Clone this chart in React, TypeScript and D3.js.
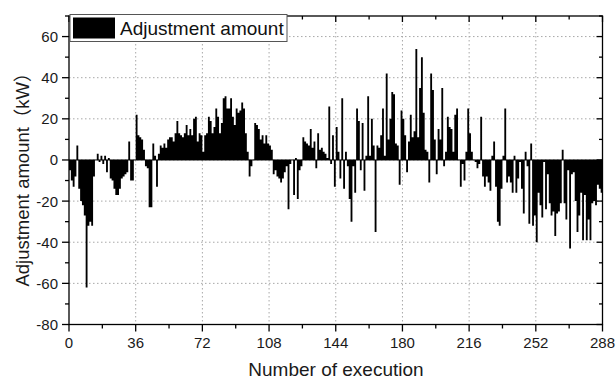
import React from "react";
import * as d3 from "d3";

// Adjustment amount (kW) for each execution, 1..288
const adjustment: number[] = [
  -5, -10, -13, -8, 7, -14, -20, -22, -27, -62, -32, -30,
  -32, -8, 0, 3, -1, 2, -2, 2, -6, 1, -9, -10,
  -14, -17, -17, -14, -9, -8, -7, -6, 9, -10, -10, 0,
  22, 12, 11, 10, 5, -3, -4, -23, -23, 8, 2, -13,
  3, 7, 6, 8, 6, 10, 11, 11, 9, 13, 19, 13,
  12, 11, 13, 17, 12, 15, 12, 20, 21, 9, 13, 12,
  4, 12, 13, 21, 19, 13, 16, 25, 21, 13, 18, 30,
  31, 25, 25, 30, 21, 17, 25, 23, 24, 28, 25, 13,
  4, -8, -3, 0, 18, 17, 15, 10, 12, 8, 12, 8,
  7, 5, -7, -5, -8, -9, -11, -9, -6, -3, -24, -2,
  0, -17, 1, -19, -5, -3, 11, 9, 8, 7, 15, 6,
  9, -4, 13, 5, 6, 4, 3, 1, 26, -2, 12, -13,
  16, 4, -9, 30, -14, 4, -3, -19, -30, -3, -16, 25,
  19, -5, 18, -15, 2, 31, 2, 20, 7, -35, 7, 6,
  12, 25, 2, 42, 10, 20, 33, 32, 8, 7, -12, 24,
  20, 12, -6, 9, 22, 11, 14, 54, 11, 35, 50, 23,
  5, 4, -11, 42, 34, 10, -7, 15, 10, 35, -3, 4,
  21, 16, 15, 4, 22, 25, 0, -13, -2, -10, 4, 25,
  13, 4, 0, -1, -4, -2, 21, -8, -13, -8, -11, -15,
  2, 9, -13, -30, -32, -14, 2, 25, -11, -8, -11, -16,
  2, -16, -9, -1, -14, -26, 4, -3, -31, 8, -32, -27,
  -40, -16, -22, -28, -1, -24, -7, -21, -27, -25, -37, -26,
  -25, -21, 5, -21, -29, -5, -43, -7, -6, -20, -35, -27,
  -16, -39, -17, -39, -29, -39, -21, -20, -22, -12, -14, -16,
];

const xMajorTicks: number[] = [0, 36, 72, 108, 144, 180, 216, 252, 288];
const xMinorTicks: number[] = [18, 54, 90, 126, 162, 198, 234, 270];
const yMajorTicks: number[] = [-80, -60, -40, -20, 0, 20, 40, 60];
const yMinorTicks: number[] = [-70, -50, -30, -10, 10, 30, 50, 70];

const seriesName = "Adjustment amount";
const xTitle = "Number of execution";
const yTitle = "Adjustment amount（kW）";

const W = 616;
const H = 381;
const left = 69;
const right = 602.5;
const top = 16;
const bottom = 324.5;
const font = "'Liberation Sans', Arial, 'Noto Sans CJK SC', sans-serif";

export default function App() {
  const x = d3.scaleLinear().domain([0, 288]).range([left, right]);
  const y = d3.scaleLinear().domain([-80, 70]).range([bottom, top]);
  const y0 = y(0);
  const grid = "#a8a8a8";

  // all bars in one path so neighbouring columns join without seams
  const barPath = d3.path();
  adjustment.forEach((v, i) => {
    const x0 = x(i);
    const x1 = x(i + 1);
    const yv = y(v);
    barPath.rect(x0, Math.min(yv, y0), x1 - x0, Math.abs(yv - y0));
  });

  return (
    <svg
      width={W}
      height={H}
      viewBox={`0 0 ${W} ${H}`}
      style={{ position: "absolute", left: 0, top: 0, background: "#fff" }}
      fontFamily={font}
    >
      <rect x={0} y={0} width={W} height={H} fill="#fff" />

      {/* dotted grid */}
      {xMajorTicks
        .filter((t) => t > 0 && t < 288)
        .map((t) => (
          <line
            key={`gx${t}`}
            x1={x(t)}
            x2={x(t)}
            y1={top}
            y2={bottom}
            stroke={grid}
            strokeWidth={1}
            strokeDasharray="1.5,2.5"
          />
        ))}
      {yMajorTicks
        .filter((t) => t > -80)
        .map((t) => (
          <line
            key={`gy${t}`}
            x1={left}
            x2={right}
            y1={y(t)}
            y2={y(t)}
            stroke={grid}
            strokeWidth={1}
            strokeDasharray="1.5,2.5"
          />
        ))}

      {/* bars */}
      <path d={barPath.toString()} fill="#000" />
      <line x1={left} x2={right} y1={y0} y2={y0} stroke="#000" strokeWidth={1} />

      {/* frame */}
      <rect
        x={left}
        y={top}
        width={right - left}
        height={bottom - top}
        fill="none"
        stroke="#000"
        strokeWidth={1.3}
      />

      {/* bottom axis: outward ticks; top axis: inward ticks */}
      {xMajorTicks.map((t) => (
        <g key={`xt${t}`}>
          <line x1={x(t)} x2={x(t)} y1={bottom} y2={bottom + 7} stroke="#000" strokeWidth={1.3} />
          <line x1={x(t)} x2={x(t)} y1={top} y2={top + 6} stroke="#000" strokeWidth={1.3} />
          <text
            x={x(t)}
            y={bottom + 23}
            fontSize={15}
            textAnchor="middle"
            fill="#1a1a1a"
          >
            {t}
          </text>
        </g>
      ))}
      {xMinorTicks.map((t) => (
        <g key={`xm${t}`}>
          <line x1={x(t)} x2={x(t)} y1={bottom} y2={bottom + 4} stroke="#000" strokeWidth={1.3} />
          <line x1={x(t)} x2={x(t)} y1={top} y2={top + 3.5} stroke="#000" strokeWidth={1.3} />
        </g>
      ))}

      {/* left axis: outward ticks; right axis: inward ticks */}
      {yMajorTicks.map((t) => (
        <g key={`yt${t}`}>
          <line x1={left - 7} x2={left} y1={y(t)} y2={y(t)} stroke="#000" strokeWidth={1.3} />
          <line x1={right - 6} x2={right} y1={y(t)} y2={y(t)} stroke="#000" strokeWidth={1.3} />
          <text
            x={left - 11}
            y={y(t) + 5.5}
            fontSize={15}
            textAnchor="end"
            fill="#1a1a1a"
          >
            {t}
          </text>
        </g>
      ))}
      {yMinorTicks.map((t) => (
        <g key={`ym${t}`}>
          <line x1={left - 4} x2={left} y1={y(t)} y2={y(t)} stroke="#000" strokeWidth={1.3} />
          <line x1={right - 3.5} x2={right} y1={y(t)} y2={y(t)} stroke="#000" strokeWidth={1.3} />
        </g>
      ))}

      {/* axis titles */}
      <text x={336} y={376} fontSize={19} textAnchor="middle" fill="#1a1a1a">
        {xTitle}
      </text>
      <text
        transform="translate(29,175) rotate(-90)"
        fontSize={18.5}
        textAnchor="middle"
        fill="#1a1a1a"
      >
        {yTitle}
      </text>

      {/* legend */}
      <rect x={70} y={14.5} width={217} height={27} fill="#fff" stroke="#555" strokeWidth={1} />
      <rect x={73} y={17.5} width={42} height={21} fill="#000" />
      <text x={120} y={35} fontSize={19} fill="#111">
        {seriesName}
      </text>
    </svg>
  );
}
